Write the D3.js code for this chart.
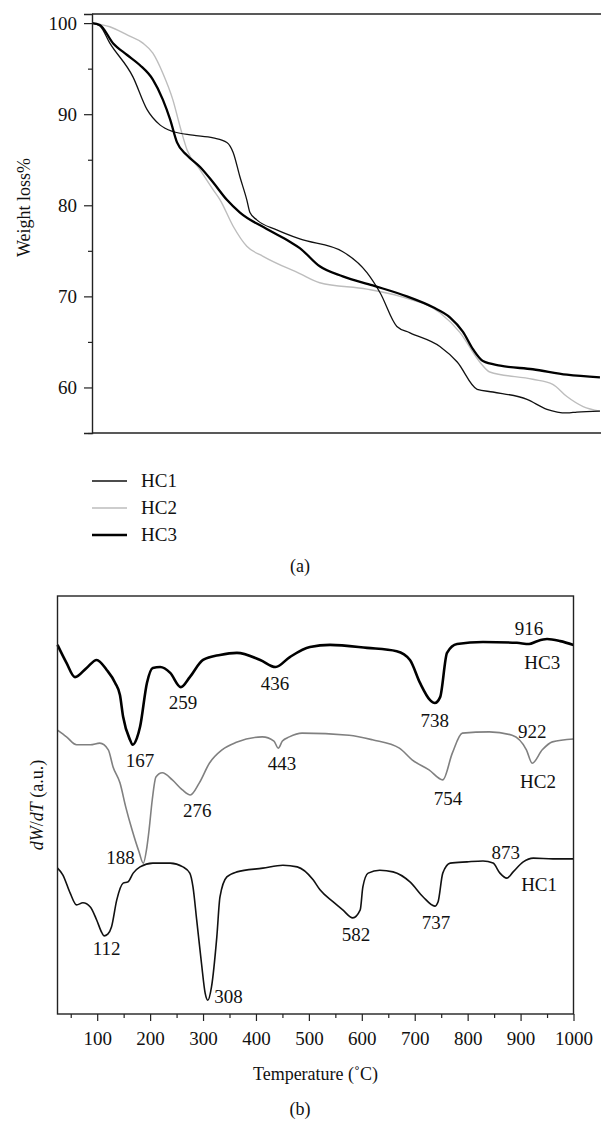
<!DOCTYPE html>
<html>
<head>
<meta charset="utf-8">
<script src="https://cdn.jsdelivr.net/npm/d3@7"></script>
<style>
  body { margin: 0; background: #fff; }
  svg { display: block; }
  svg text { font-family: "Liberation Serif", "Times New Roman", Tinos, "Noto Serif", "DejaVu Serif", "FreeSerif", "Nimbus Roman", Times, serif; }
</style>
</head>
<body>
<svg id="chart" width="601" height="1121"></svg>
<script>
/*
 * (a) TGA weight loss curves
 */
const seriesNames = ["HC1", "HC2", "HC3"];

const tgaTempHC1 = [30, 45, 64, 108, 135, 160, 184, 222, 261, 287, 299, 312, 325, 331, 344, 382, 426, 508, 554, 579, 611, 636, 693, 726, 764, 794, 859, 897, 935, 954, 998];
const tgaHC1 = [100, 99.7, 97.8, 94.1, 90.5, 88.8, 88.1, 87.7, 87.4, 86.9, 85.8, 83.1, 80.6, 79.2, 78.4, 77.3, 76.3, 74.9, 72.6, 70.4, 66.7, 66.0, 64.5, 62.8, 59.8, 59.5, 58.7, 57.6, 57.2, 57.3, 57.4];

const tgaTempHC2 = [30, 64, 97, 127, 146, 165, 184, 198, 211, 236, 261, 274, 299, 325, 356, 426, 464, 554, 617, 693, 731, 769, 788, 870, 908, 935, 966, 998];
const tgaHC2 = [100, 99.6, 98.7, 97.8, 96.7, 94.5, 91.6, 88.6, 86.1, 83.9, 81.7, 80.6, 77.7, 75.5, 74.4, 72.5, 71.5, 70.8, 70.0, 68.2, 66.05, 62.8, 61.7, 60.9, 60.35, 59.0, 57.9, 57.4];

const tgaTempHC3 = [30, 45, 70, 97, 121, 146, 165, 179, 192, 211, 236, 261, 287, 312, 363, 407, 426, 464, 508, 565, 630, 680, 712, 737, 756, 775, 808, 870, 935, 998];
const tgaHC3 = [100, 99.8, 97.8, 96.5, 95.4, 93.8, 91.6, 89.4, 86.9, 85.5, 84.2, 82.5, 80.6, 79.2, 77.4, 76.0, 75.3, 73.3, 72.2, 71.2, 70.0, 68.8, 67.7, 66.1, 64.2, 62.9, 62.4, 62.0, 61.4, 61.1];

const weightTicks = [60, 70, 80, 90, 100];
const weightMinorTicks = [55, 65, 75, 85, 95];

/*
 * (b) DTG curves (arbitrary units)
 */
const dtgTempHC1 = [25, 35, 49, 61, 73, 87, 99, 109, 113, 120, 127, 137, 149, 158, 168, 181, 205, 238, 262, 275, 281, 288, 297, 304, 309, 316, 326, 332, 345, 364, 413, 451, 478, 508, 521, 546, 564, 583, 597, 602, 612, 634, 659, 691, 716, 738, 744, 753, 767, 799, 829, 848, 861, 874, 886, 905, 924, 961, 1000];
const dtgHC1 = [34.9, 33.3, 28.9, 26.1, 26.6, 25.6, 22.5, 19.4, 18.7, 19.1, 20.8, 27.3, 31.3, 31.6, 33.7, 35.2, 36.1, 36.1, 35.2, 33.7, 30.4, 22.5, 12.2, 5.0, 3.3, 6.5, 18.4, 28.0, 32.8, 34.0, 34.9, 35.6, 35.2, 32.1, 29.7, 26.8, 24.9, 23.0, 24.9, 30.4, 33.7, 34.4, 34.0, 31.6, 28.0, 25.8, 26.8, 33.7, 36.1, 36.4, 36.6, 36.1, 33.7, 32.5, 34.0, 36.4, 37.3, 37.1, 37.1];

const dtgTempHC2 = [25, 42, 61, 87, 105, 121, 130, 143, 154, 166, 179, 187, 194, 198, 204, 211, 223, 242, 261, 276, 293, 312, 336, 363, 412, 434, 442, 450, 463, 487, 576, 620, 671, 695, 727, 753, 771, 790, 841, 884, 911, 922, 941, 960, 1000];
const dtgHC2 = [67.9, 66.3, 64.4, 64.4, 64.8, 63.2, 59.1, 55.3, 49.5, 44.0, 38.8, 36.1, 40.0, 44.0, 51.2, 56.7, 57.7, 56.0, 53.6, 52.4, 55.3, 60.0, 63.2, 65.0, 66.3, 65.3, 63.6, 65.3, 66.3, 67.2, 66.7, 65.6, 63.6, 60.8, 58.4, 56.0, 62.4, 67.2, 67.5, 66.7, 63.2, 60.0, 63.2, 65.1, 65.8];

const dtgTempHC3 = [25, 42, 58, 80, 99, 118, 134, 143, 149, 162, 167, 175, 181, 194, 205, 219, 238, 258, 275, 300, 332, 364, 408, 437, 464, 502, 540, 610, 666, 691, 710, 729, 738, 748, 761, 780, 829, 893, 916, 931, 950, 975, 1000];
const dtgHC3 = [88.3, 84.0, 80.6, 82.8, 84.7, 82.3, 79.2, 76.3, 71.1, 65.6, 64.4, 66.0, 68.7, 79.2, 82.8, 83.0, 81.6, 78.2, 80.6, 84.7, 85.9, 86.4, 84.7, 83.0, 85.4, 87.8, 88.3, 87.6, 86.8, 84.7, 79.2, 75.1, 74.4, 75.8, 86.4, 88.5, 89.0, 88.8, 88.5, 89.2, 89.7, 89.2, 88.3];

const tempTicks = [100, 200, 300, 400, 500, 600, 700, 800, 900, 1000];
const tempMinorTicks = [50, 150, 250, 350, 450, 550, 650, 750, 850, 950];

// peak / curve labels, anchored in data units (temperature, signal)
const peakLabels = ["916", "HC3", "738", "259", "436", "167", "443", "276", "754", "922", "HC2", "188", "112", "308", "582", "737", "873", "HC1"];
const peakLabelTemp = [916, 941, 738, 262, 436, 181, 449, 289, 763, 922, 933, 144, 118, 348, 589, 740, 872, 935];
const peakLabelSignal = [90.7, 82.5, 68.7, 73.0, 77.5, 59.1, 58.4, 47.1, 50.0, 66.0, 54.1, 35.9, 14.1, 2.6, 17.5, 20.3, 37.1, 29.4];

const FONT_SIZE = 19;

main();

function main() {
  const svg = d3.select("#chart");
  drawTga(svg);
  drawDtg(svg);
}

function drawTga(svg) {
  const x = d3.scaleLinear([30, 1000], [92, 601]);
  const y = d3.scaleLinear([55, 101], [433, 14]);

  const styles = {
    HC1: { color: "#111", width: 1.3 },
    HC2: { color: "#bdbdbd", width: 1.4 },
    HC3: { color: "#000", width: 2.3 }
  };
  const series = [
    { name: "HC1", t: tgaTempHC1, v: tgaHC1 },
    { name: "HC2", t: tgaTempHC2, v: tgaHC2 },
    { name: "HC3", t: tgaTempHC3, v: tgaHC3 }
  ];

  const line = d3.line()
    .x(d => x(d[0]))
    .y(d => y(d[1]))
    .curve(d3.curveMonotoneX);

  // draw HC2 first so the black curves lie on top
  [series[1], series[0], series[2]].forEach(s => {
    svg.append("path")
      .datum(d3.zip(s.t, s.v))
      .attr("fill", "none")
      .attr("stroke", styles[s.name].color)
      .attr("stroke-width", styles[s.name].width)
      .attr("stroke-linejoin", "round")
      .attr("d", line);
  });

  // frame: top and bottom lines run off the right edge
  svg.append("line")
    .attr("x1", x.range()[0]).attr("x2", x.range()[1])
    .attr("y1", y.range()[1]).attr("y2", y.range()[1])
    .attr("stroke", "#222").attr("stroke-width", 1.4);
  svg.append("line")
    .attr("x1", x.range()[0]).attr("x2", x.range()[1])
    .attr("y1", y.range()[0]).attr("y2", y.range()[0])
    .attr("stroke", "#222").attr("stroke-width", 1.4);

  const yAxis = svg.append("g")
    .attr("transform", `translate(${x.range()[0]},0)`)
    .attr("font-family", null)
    .call(d3.axisLeft(y).tickValues(weightTicks).tickSize(8).tickPadding(7))
    .attr("font-family", null)
    .call(g => g.select(".domain").attr("stroke-width", 1.4).attr("stroke", "#222"));
  yAxis.selectAll("text")
    .attr("font-size", FONT_SIZE)
    .attr("fill", "#111");
  yAxis.selectAll(".tick line").attr("stroke", "#222").attr("stroke-width", 1.2);

  svg.append("g")
    .attr("transform", `translate(${x.range()[0]},0)`)
    .call(d3.axisLeft(y).tickValues(weightMinorTicks).tickSize(4).tickFormat(""))
    .call(g => g.select(".domain").remove())
    .call(g => g.selectAll(".tick line").attr("stroke", "#222").attr("stroke-width", 1.2));

  svg.append("text")
    .attr("transform", `translate(30,${(y.range()[0] + y.range()[1]) / 2 - 16}) rotate(-90)`)
    .attr("text-anchor", "middle")
    .attr("font-size", FONT_SIZE - 1)
    .attr("fill", "#111")
    .text("Weight loss%");

  // legend
  const legend = svg.append("g").attr("transform", "translate(92,481)");
  seriesNames.forEach((name, i) => {
    const row = legend.append("g").attr("transform", `translate(0,${i * 27})`);
    row.append("line")
      .attr("x1", 0).attr("x2", 35)
      .attr("stroke", styles[name].color)
      .attr("stroke-width", styles[name].width);
    row.append("text")
      .attr("x", 49).attr("y", 6)
      .attr("font-size", FONT_SIZE)
      .attr("fill", "#111")
      .text(name);
  });

  svg.append("text")
    .attr("x", 300).attr("y", 572)
    .attr("text-anchor", "middle")
    .attr("font-size", FONT_SIZE - 1)
    .attr("fill", "#111")
    .text("(a)");
}

function drawDtg(svg) {
  const x = d3.scaleLinear([25, 1000], [57.5, 573.5]);
  const y = d3.scaleLinear([0, 100], [1014, 596]);

  const series = [
    { t: dtgTempHC1, v: dtgHC1, color: "#111", width: 1.6 },
    { t: dtgTempHC2, v: dtgHC2, color: "#808080", width: 1.6 },
    { t: dtgTempHC3, v: dtgHC3, color: "#000", width: 2.6 }
  ];

  const line = d3.line()
    .x(d => x(d[0]))
    .y(d => y(d[1]))
    .curve(d3.curveMonotoneX);

  series.forEach(s => {
    svg.append("path")
      .datum(d3.zip(s.t, s.v))
      .attr("fill", "none")
      .attr("stroke", s.color)
      .attr("stroke-width", s.width)
      .attr("stroke-linejoin", "round")
      .attr("d", line);
  });

  svg.append("rect")
    .attr("x", x.range()[0]).attr("y", y.range()[1])
    .attr("width", x.range()[1] - x.range()[0])
    .attr("height", y.range()[0] - y.range()[1])
    .attr("fill", "none")
    .attr("stroke", "#222")
    .attr("stroke-width", 1.4);

  const xAxis = svg.append("g")
    .attr("transform", `translate(0,${y.range()[0]})`)
    .call(d3.axisBottom(x).tickValues(tempTicks).tickFormat(d3.format("d")).tickSize(7).tickPadding(11))
    .attr("font-family", null)
    .call(g => g.select(".domain").remove());
  xAxis.selectAll("text")
    .attr("font-size", FONT_SIZE)
    .attr("fill", "#111");
  xAxis.selectAll(".tick line").attr("stroke", "#222").attr("stroke-width", 1.2);

  svg.append("g")
    .attr("transform", `translate(0,${y.range()[0]})`)
    .call(d3.axisBottom(x).tickValues(tempMinorTicks).tickSize(4).tickFormat(""))
    .call(g => g.select(".domain").remove())
    .call(g => g.selectAll(".tick line").attr("stroke", "#222").attr("stroke-width", 1.2));

  svg.append("text")
    .attr("x", (x.range()[0] + x.range()[1]) / 2)
    .attr("y", 1080)
    .attr("text-anchor", "middle")
    .attr("font-size", FONT_SIZE - 1)
    .attr("fill", "#111")
    .text("Temperature (˚C)");

  const yTitle = svg.append("text")
    .attr("transform", `translate(43,${(y.range()[0] + y.range()[1]) / 2}) rotate(-90)`)
    .attr("text-anchor", "middle")
    .attr("font-size", FONT_SIZE - 1)
    .attr("fill", "#111");
  yTitle.append("tspan").attr("font-style", "italic").text("dW");
  yTitle.append("tspan").text("/");
  yTitle.append("tspan").attr("font-style", "italic").text("dT");
  yTitle.append("tspan").text(" (a.u.)");

  svg.append("g")
    .selectAll("text")
    .data(d3.range(peakLabels.length))
    .join("text")
    .attr("x", i => x(peakLabelTemp[i]))
    .attr("y", i => y(peakLabelSignal[i]))
    .attr("text-anchor", "middle")
    .attr("font-size", FONT_SIZE)
    .attr("fill", "#111")
    .text(i => peakLabels[i]);

  svg.append("text")
    .attr("x", 300).attr("y", 1115)
    .attr("text-anchor", "middle")
    .attr("font-size", FONT_SIZE - 1)
    .attr("fill", "#111")
    .text("(b)");
}
</script>
</body>
</html>
